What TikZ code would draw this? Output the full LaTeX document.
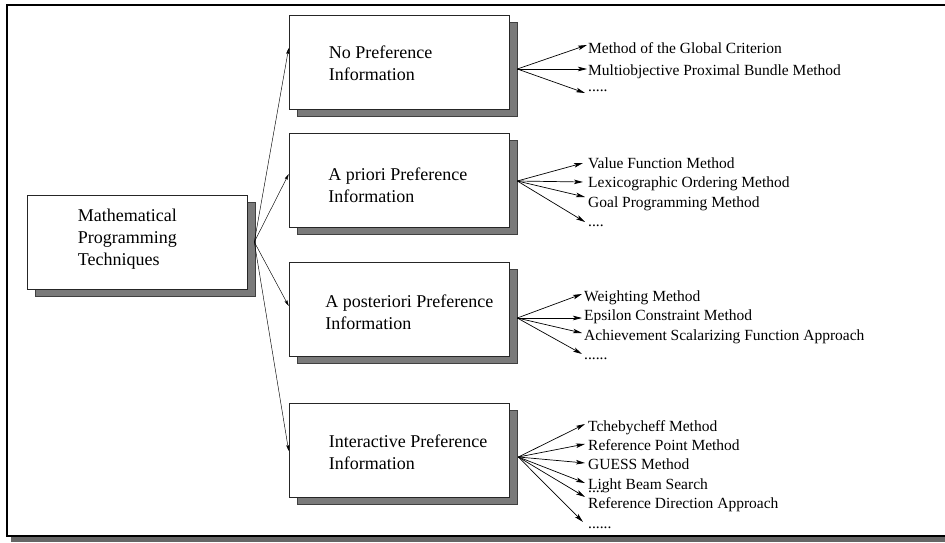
\documentclass[tikz,border=0pt]{standalone}
\usepackage{fontspec}
\setmainfont{Liberation Serif}
\usetikzlibrary{calc,shadows,arrows.meta}
\begin{document}
\begin{tikzpicture}[x=1pt,y=-1pt,
  box/.style={draw=black!85, fill=white, line width=0.6pt, minimum width=220pt, minimum height=94pt, inner sep=0pt,
    drop shadow={shadow xshift=8pt, shadow yshift=-7pt, fill=black!52, draw=black!75, opacity=1}},
  btext/.style={anchor=west, align=left, inner sep=0pt, font=\fontsize{18}{22}\selectfont},
  mtext/.style={anchor=base west, inner sep=0pt, font=\fontsize{15.5}{18}\selectfont},
  marrow/.style={-{Stealth[length=9pt,width=4.5pt,inset=2pt]}, line width=0.7pt},
  parrow/.style={-{Stealth[length=6pt,width=3pt,inset=1pt]}, line width=0.45pt}]
\useasboundingbox (0,0) rectangle (945,543);
% frame
\fill[black!60] (11,537) rectangle (945,542);
\draw[line width=2pt] (945,5) -- (7,5) -- (7,536) -- (945,536);
% boxes
\node[box] (m) at (137,242) {};
\node[box] (b1) at (399,62) {};
\node[box] (b2) at (399,180) {};
\node[box] (b3) at (399,309.5) {};
\node[box] (b4) at (399,450) {};
% box texts
\node[btext] (mt) at ($(m.west)+(51,-3)$) {Mathematical\\Programming\\Techniques};
\node[btext] (b1t) at ($(b1.west)+(40,1)$) {No Preference\\Information};
\node[btext] (b2t) at ($(b2.west)+(39.5,5)$) {A priori Preference\\Information};
\node[btext] (b3t) at ($(b3.west)+(36.5,2.5)$) {A posteriori Preference\\Information};
\node[btext] (b4t) at ($(b4.west)+(40,2.5)$) {Interactive Preference\\Information};
% main arrows
\coordinate (mo) at ($(m.east)+(7,0)$);
\draw[parrow] (mo) -- ($(b1.west)+(0,-14)$);
\draw[parrow] (mo) -- ($(b2.west)+(0,-6)$);
\draw[parrow] (mo) -- ($(b3.west)+(0,-3.5)$);
\draw[parrow] (mo) -- ($(b4.west)+(0,1)$);
% method texts box 1
\node[mtext] (t11) at (588,54) {Method of the Global Criterion};
\node[mtext] (t12) at (588,75) {Multiobjective Proximal Bundle Method};
\node[mtext] (t13) at (588,92) {.....};
% box 2
\node[mtext] (t21) at (588,168) {Value Function Method};
\node[mtext] (t22) at (588,187) {Lexicographic Ordering Method};
\node[mtext] (t23) at (588,207) {Goal Programming Method};
\node[mtext] (t24) at (588,226) {....};
% box 3
\node[mtext] (t31) at (584,301) {Weighting Method};
\node[mtext] (t32) at (584,320) {Epsilon Constraint Method};
\node[mtext] (t33) at (584,340) {Achievement Scalarizing Function Approach};
\node[mtext] (t34) at (584,359) {......};
% box 4
\node[mtext] (t41) at (588,431) {Tchebycheff Method};
\node[mtext] (t42) at (588,450) {Reference Point Method};
\node[mtext] (t43) at (588,469) {GUESS Method};
\node[mtext] (t44) at (588,489) {Light Beam Search};
\node[mtext] (t4x) at (588,492) {....};
\node[mtext] (t45) at (588,508) {Reference Direction Approach};
\node[mtext] (t46) at (588,528) {......};
% method arrows
\coordinate (o1) at ($(b1.east)+(8,7)$);
\coordinate (o2) at ($(b2.east)+(8,1)$);
\coordinate (o3) at ($(b3.east)+(8,8.5)$);
\coordinate (o4) at ($(b4.east)+(9,7)$);
\draw[marrow] (o1) -- ($(t11.base west)+(-1,-9)$);
\draw[marrow] (o1) -- ($(t12.base west)+(-1,-6)$);
\draw[marrow] (o1) -- ($(t13.base west)+(-3,1)$);
\draw[marrow] (o2) -- ($(t21.base west)+(-5,-5)$);
\draw[marrow] (o2) -- ($(t22.base west)+(-5,-5)$);
\draw[marrow] (o2) -- ($(t23.base west)+(-3,-10)$);
\draw[marrow] (o2) -- ($(t24.base west)+(-3,-4)$);
\draw[marrow] (o3) -- ($(t31.base west)+(-2,-7)$);
\draw[marrow] (o3) -- ($(t32.base west)+(-2,-2)$);
\draw[marrow] (o3) -- ($(t33.base west)+(-2,-7)$);
\draw[marrow] (o3) -- ($(t34.base west)+(-2,-5)$);
\draw[marrow] (o4) -- ($(t41.base west)+(-3,-7)$);
\draw[marrow] (o4) -- ($(t42.base west)+(-3,-6)$);
\draw[marrow] (o4) -- ($(t43.base west)+(-3,-6)$);
\draw[marrow] (o4) -- ($(t44.base west)+(-3,-6)$);
\draw[marrow] (o4) -- ($(t45.base west)+(-3,-11)$);
\draw[marrow] (o4) -- ($(t46.base west)+(-5,-6)$);
\end{tikzpicture}
\end{document}
